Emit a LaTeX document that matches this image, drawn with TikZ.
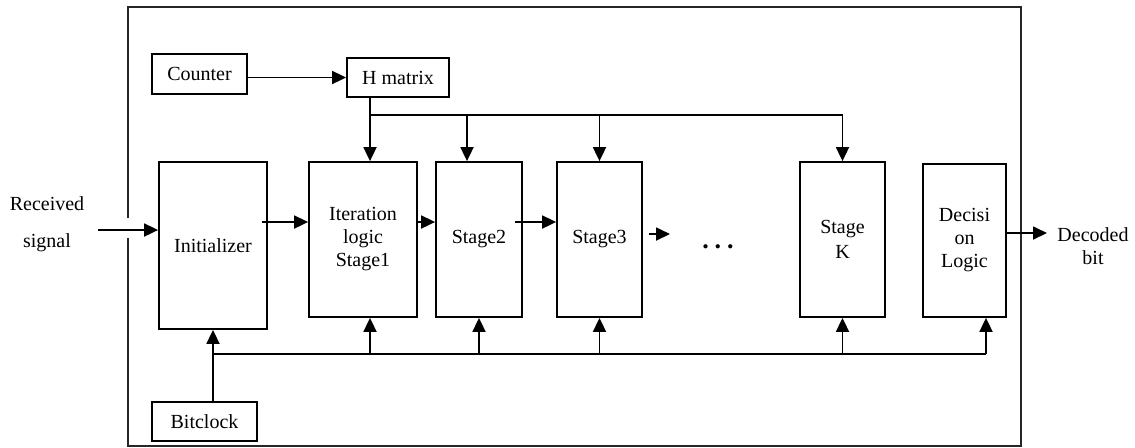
\documentclass[tikz,border=0pt]{standalone}
\usepackage{fontspec}
\setmainfont{Liberation Serif}
\usetikzlibrary{arrows.meta, positioning}

\begin{document}
\begin{tikzpicture}[x=0.5pt, y=-0.5pt,
    every node/.style={font=\fontsize{10}{11.5}\selectfont, align=center},
    blk/.style={draw, line width=0.9pt, inner sep=0pt},
    arr/.style={line width=0.9pt, -{Triangle[length=7pt, width=6.5pt]}},
    bus/.style={line width=0.9pt}]

  \useasboundingbox (0,0) rectangle (1135,447);

  % Frame (open where the signal enters)
  \draw[line width=0.9pt, black!85] (128,218) -- (128,7) -- (1021,7) -- (1021,446) -- (128,446) -- (128,238);

  % Blocks
  \node[blk, minimum width=47.5pt, minimum height=20pt] (counter) at (199.5,74) {Counter};
  \node[blk, minimum width=51pt, minimum height=19.5pt] (hmat) at (398,77.5) {H matrix};
  \node[blk, minimum width=54pt, minimum height=83.5pt] (init) at (213,245.5) {Initializer};
  \node[blk, minimum width=54pt, minimum height=77.5pt] (st1) at (363,239.5) {Iteration\\logic\\Stage1};
  \node[blk, minimum width=43pt, minimum height=77.5pt] (st2) at (479,239.5) {Stage2};
  \node[blk, minimum width=42.5pt, minimum height=77.5pt] (st3) at (599.5,239.5) {Stage3};
  \node[blk, minimum width=42.5pt, minimum height=77.5pt] (stk) at (842.5,239.5) {Stage\\[1pt]K};
  \node[blk, minimum width=41.5pt, minimum height=76.5pt] (dec) at (964.5,240.5) {Decisi\\on\\Logic};
  \node[blk, minimum width=52.5pt, minimum height=19.5pt] (bitclk) at (204.5,421.5) {Bitclock};

  % Labels
  \node (rx) at (47,224) {Received\\[7pt]signal};
  \node (dots) at (718,247) {\fontsize{13}{13}\selectfont\bfseries .\hspace{3pt}.\hspace{3pt}.};
  \node (outlbl) at (1093,246) {Decoded\\bit};

  % Bus levels and taps
  \coordinate (rxin) at (98,230);
  \coordinate (row) at (0,222);
  \coordinate (st3out) at (670,234);
  \coordinate (decout) at (1047,233);
  \coordinate (hbus) at (0,115);
  \coordinate (cbus) at (0,354);
  \coordinate (tap1) at ([xshift=3.5pt]st1.north);
  \coordinate (tap2) at ([xshift=-6pt]st2.north);
  \coordinate (tapb1) at ([xshift=3.5pt]st1.south);
  \coordinate (tapd) at ([xshift=10.75pt]dec.south);

  % Counter to H matrix
  \draw[arr] (counter.east |- hmat.west) -- (hmat.west);

  % H matrix to the stages
  \draw[arr] (tap1 |- hmat.south) -- (tap1);
  \draw[bus] (tap1 |- hbus) -- (stk.north |- hbus);
  \foreach \t in {tap2, st3.north, stk.north}
    \draw[arr] (\t |- hbus) -- (\t);

  % Bit clock bus
  \draw[arr] (bitclk.north -| init.south) -- (init.south);
  \draw[bus] (init.south |- cbus) -- (tapd |- cbus);
  \foreach \t in {tapb1, st2.south, st3.south, stk.south, tapd}
    \draw[arr] (\t |- cbus) -- (\t);

  % Data path
  \draw[arr] (rxin) -- (init.west |- rxin);
  \draw[arr, shorten <=-3pt] (init.east |- row) -- (st1.west |- row);
  \draw[arr] (st1.east |- row) -- (st2.west |- row);
  \draw[arr, shorten <=-4pt] (st2.east |- row) -- (st3.west |- row);
  \draw[arr, shorten <=3pt] (st3.east |- st3out) -- (st3out);
  \draw[arr] (dec.east |- decout) -- (decout);

\end{tikzpicture}
\end{document}
